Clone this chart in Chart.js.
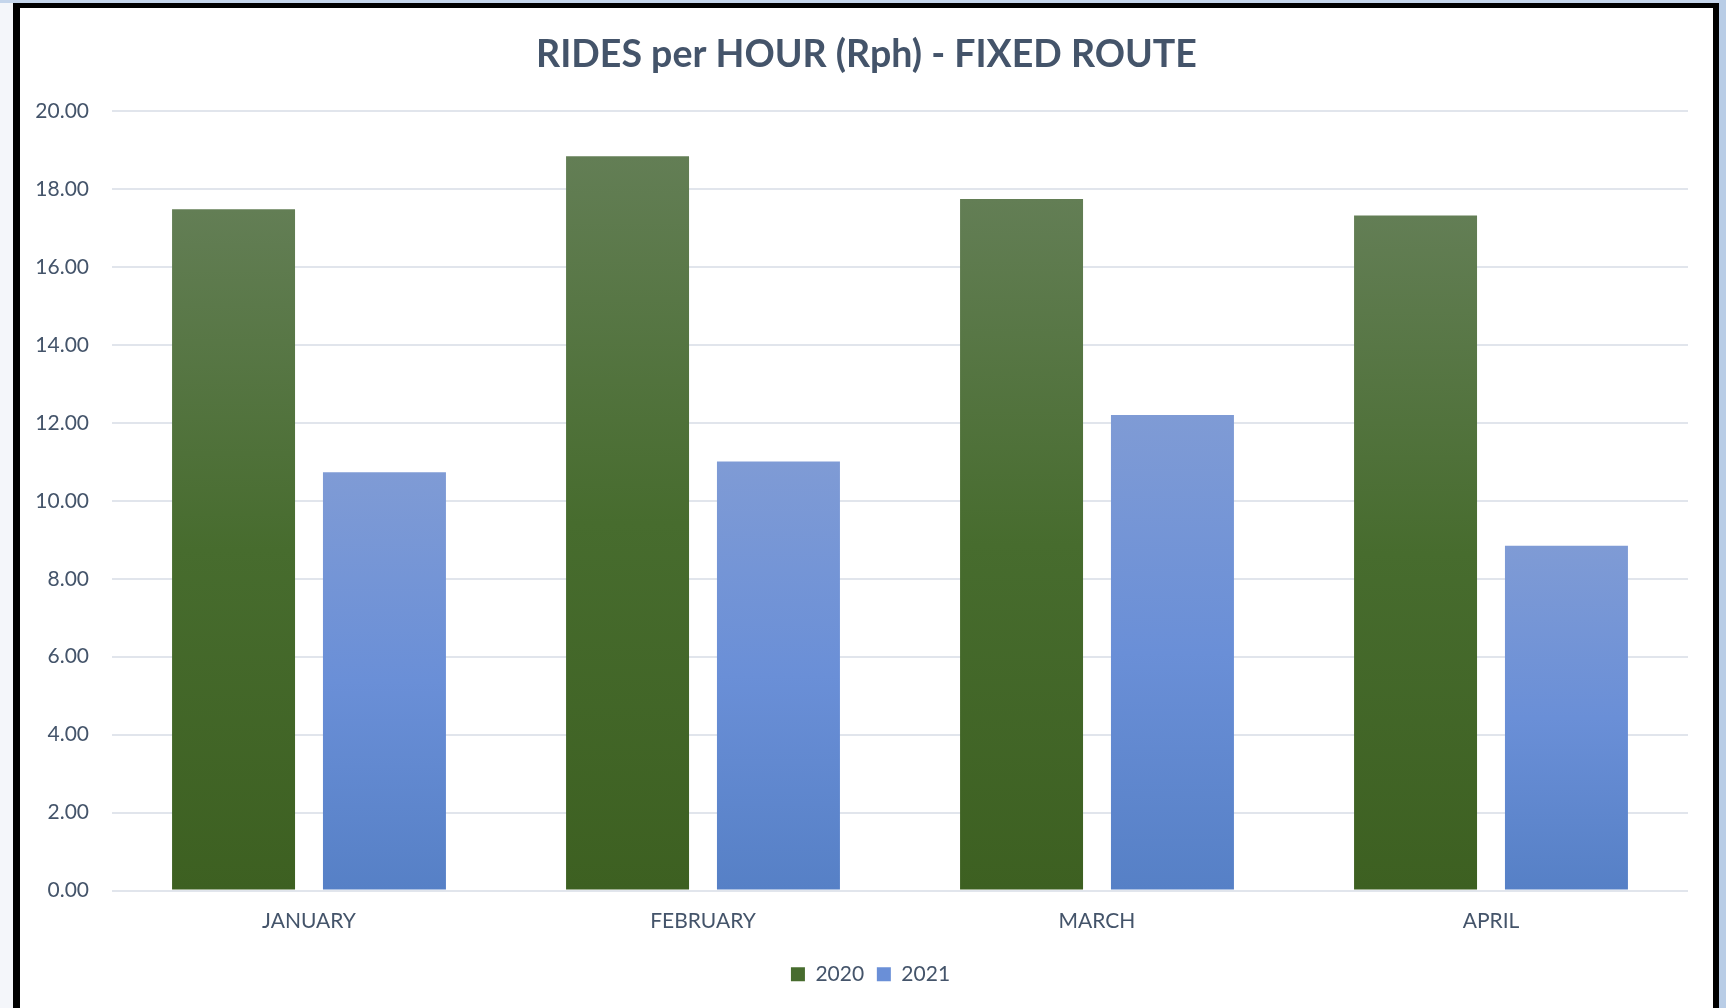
<!DOCTYPE html>
<html>
<head>
<meta charset="utf-8">
<script src="https://cdn.jsdelivr.net/npm/chart.js@4/dist/chart.umd.min.js"></script>
<style>
  html, body { margin: 0; padding: 0; }
  body { width: 1726px; height: 1008px; overflow: hidden; background: #f4f6fa; position: relative; }
  #topStrip { position: absolute; left: 0; top: 0; width: 1726px; height: 3px; background: #c4d5eb; }
  #rightStrip { position: absolute; left: 1719px; top: 0; width: 7px; height: 1008px; background: #b9cde6; }
  #frame {
    position: absolute; left: 13px; top: 3px; width: 1693px; height: 1010px;
    border-top: 5px solid #000; border-left: 7px solid #000; border-right: 6px solid #000;
    background: #ffffff;
  }
  #wrap { position: absolute; left: 0; top: 0; width: 1693px; height: 1000px; }
</style>
</head>
<body>
<div id="topStrip"></div>
<div id="rightStrip"></div>
<div id="frame"><div id="wrap"><canvas id="chart"></canvas></div></div>
<script>
// Rides per hour, fixed route service, by month
const months = ['JANUARY', 'FEBRUARY', 'MARCH', 'APRIL'];
const rph2020 = [17.48, 18.84, 17.74, 17.32];
const rph2021 = [10.73, 11.01, 12.20, 8.85];
const yTicks = [0, 2, 4, 6, 8, 10, 12, 14, 16, 18, 20];

const textColor = '#44546A';
const fontFamily = 'Lato, "Open Sans", sans-serif';

// Vertical gradient spanning each bar from its top to the baseline
function barGradient(stops) {
  return (ctx) => {
    const chart = ctx.chart;
    const yScale = chart.scales && chart.scales.y;
    if (!chart.chartArea || !yScale || ctx.raw === undefined) return stops[stops.length - 1];
    const top = yScale.getPixelForValue(ctx.raw);
    const bottom = yScale.getPixelForValue(0);
    const g = chart.ctx.createLinearGradient(0, top, 0, bottom);
    g.addColorStop(0, stops[0]);
    g.addColorStop(0.5, stops[1]);
    g.addColorStop(1, stops[2]);
    return g;
  };
}

const greenStops = ['#637e55', '#476c2e', '#3d6021'];
const blueStops = ['#7f9bd5', '#6a8fd7', '#5680c6'];

// Center the title and legend on the whole canvas rather than the padded box
const centerBlocks = {
  id: 'centerBlocks',
  beforeDraw(chart) {
    if (chart.titleBlock) { chart.titleBlock.left = 0; chart.titleBlock.right = chart.width; }
    if (chart.legend) { chart.legend.left = 8; chart.legend.right = chart.width; }
  }
};

new Chart(document.getElementById('chart'), {
  type: 'bar',
  plugins: [centerBlocks],
  data: {
    labels: months,
    datasets: [
      {
        label: '2020',
        data: rph2020,
        backgroundColor: barGradient(greenStops),
        borderWidth: 0,
        categoryPercentage: 0.766,
        barPercentage: 0.815
      },
      {
        label: '2021',
        data: rph2021,
        backgroundColor: barGradient(blueStops),
        borderWidth: 0,
        categoryPercentage: 0.766,
        barPercentage: 0.815
      }
    ]
  },
  options: {
    responsive: true,
    maintainAspectRatio: false,
    animation: false,
    layout: { padding: { left: 0, right: 25, top: 0, bottom: 13.3 } },
    plugins: {
      title: {
        display: true,
        text: 'RIDES per HOUR (Rph) - FIXED ROUTE',
        color: textColor,
        font: { family: fontFamily, size: 37.5, weight: 'bold' },
        padding: { top: 24, bottom: 34 }
      },
      legend: {
        position: 'bottom',
        labels: {
          color: textColor,
          font: { family: fontFamily, size: 21 },
          boxWidth: 14,
          boxHeight: 14,
          padding: 12.7,
          generateLabels: (chart) => chart.data.datasets.map((ds, i) => ({
            text: ds.label,
            fillStyle: i === 0 ? greenStops[1] : blueStops[1],
            strokeStyle: 'rgba(0,0,0,0)',
            lineWidth: 0,
            hidden: false,
            datasetIndex: i,
            fontColor: textColor
          }))
        }
      },
      tooltip: { enabled: false }
    },
    scales: {
      x: {
        grid: { display: false, drawTicks: false },
        border: { display: false },
        ticks: { color: textColor, font: { family: fontFamily, size: 21 }, padding: 17.6 }
      },
      y: {
        min: 0,
        max: 20,
        afterFit: (scale) => { scale.width = 92; },
        afterBuildTicks: (scale) => { scale.ticks = yTicks.map(v => ({ value: v })); },
        grid: { color: '#e1e5ec', lineWidth: 2, drawTicks: false },
        border: { display: false },
        ticks: {
          color: textColor,
          font: { family: fontFamily, size: 21 },
          padding: 23,
          callback: (v) => Number(v).toFixed(2)
        }
      }
    }
  }
});
</script>
</body>
</html>
